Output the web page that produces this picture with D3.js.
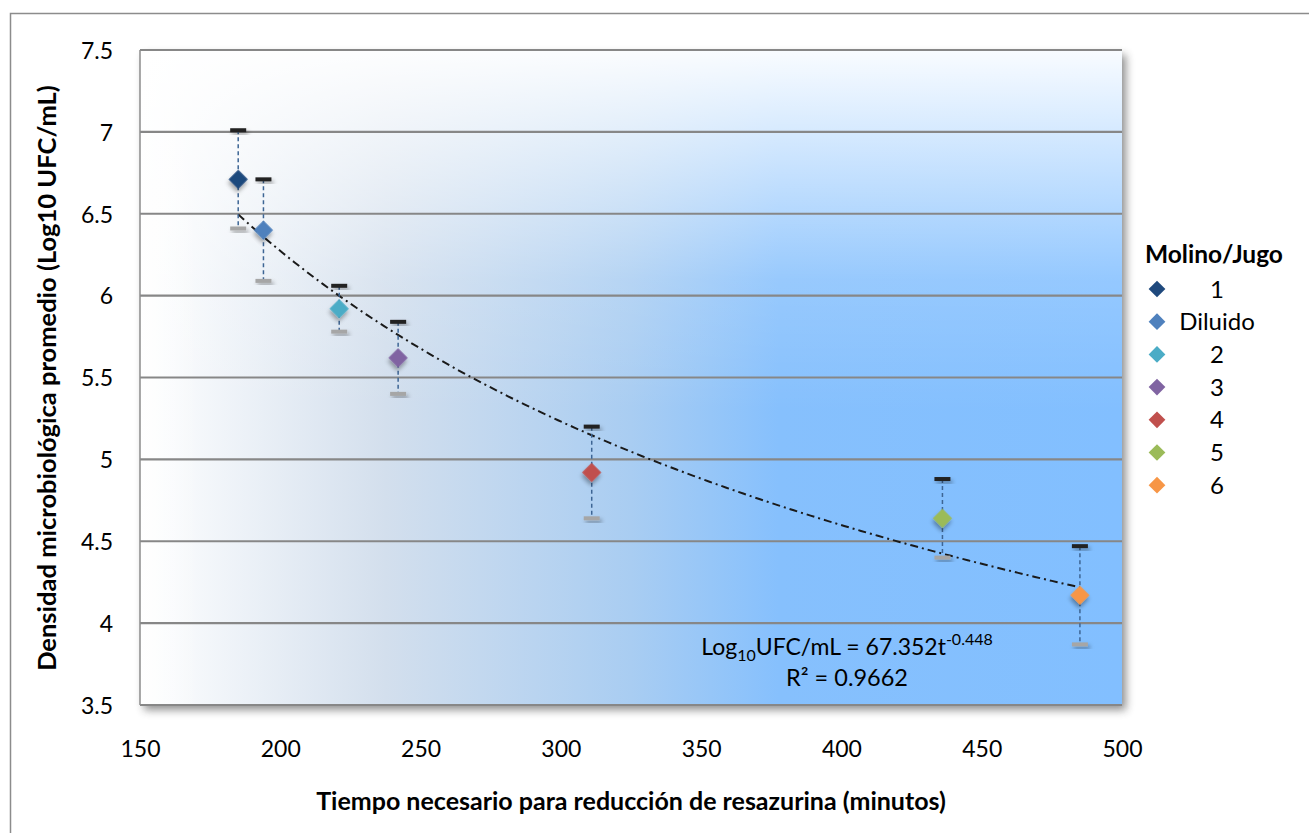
<!DOCTYPE html>
<html>
<head>
<meta charset="utf-8">
<script src="https://cdn.jsdelivr.net/npm/d3@7"></script>
<style>
  body { margin: 0; background: #fff; }
  text { font-family: Lato, "Open Sans", sans-serif; fill: #000; }
</style>
</head>
<body>
<svg id="chart" width="1309" height="833"></svg>
<script>
const labels = ["1", "Diluido", "2", "3", "4", "5", "6"];
const tiempo = [185, 194, 221, 242, 311, 436, 485];
const densidad = [6.71, 6.40, 5.92, 5.62, 4.92, 4.64, 4.17];
const errores = [0.30, 0.31, 0.14, 0.22, 0.28, 0.24, 0.30];
const colores = ["#1f497d", "#4f81bd", "#4bacc6", "#8064a2", "#c0504d", "#9bbb59", "#f79646"];
const xTicks = [150, 200, 250, 300, 350, 400, 450, 500];
const yTicks = [3.5, 4, 4.5, 5, 5.5, 6, 6.5, 7, 7.5];
// trendline from the equation shown on the chart
const trendA = 67.352, trendB = -0.448, trendRange = [185, 485];

const svg = d3.select("#chart");
const pLeft = 140, pRight = 1122, pTop = 50, pBottom = 705;

const x = d3.scaleLinear().domain([150, 500]).range([pLeft, pRight]);
const y = d3.scaleLinear().domain([3.5, 7.5]).range([pBottom, pTop]);

const defs = svg.append("defs");
const bg = defs.append("linearGradient").attr("id", "bg").attr("x1", 0).attr("x2", 1).attr("y1", 0).attr("y2", 0);
bg.append("stop").attr("offset", "0%").attr("stop-color", "#ffffff");
bg.append("stop").attr("offset", "25%").attr("stop-color", "#d3dfed");
bg.append("stop").attr("offset", "50%").attr("stop-color", "#a9cdf2");
bg.append("stop").attr("offset", "65%").attr("stop-color", "#86c0fd");
bg.append("stop").attr("offset", "100%").attr("stop-color", "#82bfff");
const fade = defs.append("linearGradient").attr("id", "fade").attr("x1", 0).attr("x2", 0).attr("y1", 0).attr("y2", 1);
fade.append("stop").attr("offset", "0%").attr("stop-color", "#fff").attr("stop-opacity", 0.95);
fade.append("stop").attr("offset", "35%").attr("stop-color", "#fff").attr("stop-opacity", 0.15);
fade.append("stop").attr("offset", "55%").attr("stop-color", "#fff").attr("stop-opacity", 0);
const fadeL = defs.append("linearGradient").attr("id", "fadeL").attr("x1", 0).attr("x2", 1).attr("y1", 0).attr("y2", 0);
fadeL.append("stop").attr("offset", "0%").attr("stop-color", "#fff").attr("stop-opacity", 1);
fadeL.append("stop").attr("offset", "100%").attr("stop-color", "#fff").attr("stop-opacity", 0);

const sh = defs.append("filter").attr("id", "shadow").attr("x", "-50%").attr("y", "-50%").attr("width", "200%").attr("height", "200%");
sh.append("feDropShadow").attr("dx", 2).attr("dy", 3).attr("stdDeviation", 2).attr("flood-opacity", 0.35);
const blur = defs.append("filter").attr("id", "blur").attr("x", "-10%").attr("y", "-10%").attr("width", "120%").attr("height", "120%");
blur.append("feGaussianBlur").attr("stdDeviation", 4);

// outer chart border
svg.append("rect").attr("x", 10.5).attr("y", 13.5).attr("width", 1320).attr("height", 840)
  .attr("fill", "#fff").attr("stroke", "#8c8c8c").attr("stroke-width", 1.5);

// plot area with shadow
svg.append("rect").attr("x", pLeft + 4).attr("y", pTop + 5).attr("width", pRight - pLeft).attr("height", pBottom - pTop)
  .attr("fill", "#555").attr("opacity", 0.65).attr("filter", "url(#blur)");
svg.append("rect").attr("x", pLeft).attr("y", pTop).attr("width", pRight - pLeft).attr("height", pBottom - pTop)
  .attr("fill", "url(#bg)");
svg.append("rect").attr("x", pLeft).attr("y", pTop).attr("width", pRight - pLeft).attr("height", pBottom - pTop)
  .attr("fill", "url(#fade)");
svg.append("rect").attr("x", pLeft).attr("y", pTop).attr("width", 60).attr("height", pBottom - pTop)
  .attr("fill", "url(#fadeL)").attr("opacity", 0.6);

// gridlines
svg.append("g").selectAll("line").data(yTicks).join("line")
  .attr("x1", pLeft).attr("x2", pRight)
  .attr("y1", d => y(d)).attr("y2", d => y(d))
  .attr("stroke", "#878787").attr("stroke-width", 2.2);
svg.append("line").attr("x1", pLeft).attr("x2", pLeft).attr("y1", pTop).attr("y2", pBottom)
  .attr("stroke", "#8c8c8c").attr("stroke-width", 1.5);

// axes
const yAxis = svg.append("g").attr("transform", `translate(${pLeft - 27},0)`)
  .call(d3.axisLeft(y).tickValues(yTicks).tickSize(0).tickPadding(0).tickFormat(d3.format("")));
yAxis.select(".domain").remove();
yAxis.selectAll("text").style("font-size", "23px").style("font-family", "Lato, sans-serif").attr("dy", "0.36em");

const xAxis = svg.append("g").attr("transform", `translate(0,${pBottom + 36})`)
  .call(d3.axisBottom(x).tickValues(xTicks).tickSize(0).tickPadding(0));
xAxis.select(".domain").remove();
xAxis.selectAll("text").style("font-size", "23px").style("font-family", "Lato, sans-serif").attr("dy", "0.71em");

svg.append("text").attr("transform", "translate(56,378) rotate(-90)")
  .attr("text-anchor", "middle").style("font-size", "25.5px").style("font-weight", "bold")
  .text("Densidad microbiológica promedio (Log10 UFC/mL)");
svg.append("text").attr("x", 631).attr("y", 810)
  .attr("text-anchor", "middle").style("font-size", "25px").style("font-weight", "bold")
  .text("Tiempo necesario para reducción de resazurina (minutos)");

// trendline
const trend = d3.range(trendRange[0], trendRange[1] + 0.5, 2).map(t => [t, trendA * Math.pow(t, trendB)]);
svg.append("path").datum(trend)
  .attr("d", d3.line().x(d => x(d[0])).y(d => y(d[1])))
  .attr("fill", "none").attr("stroke", "#1a1a1a").attr("stroke-width", 2)
  .attr("stroke-dasharray", "8,4,2,4");

// error bars and points
const pts = labels.map((l, i) => ({ l, t: tiempo[i], v: densidad[i], e: errores[i], c: colores[i] }));
const eb = svg.append("g").selectAll("g").data(pts).join("g");
eb.append("line")
  .attr("x1", d => x(d.t)).attr("x2", d => x(d.t))
  .attr("y1", d => y(d.v + d.e)).attr("y2", d => y(d.v - d.e))
  .attr("stroke", "#3d6594").attr("stroke-width", 1.5).attr("stroke-dasharray", "4,3");
eb.append("rect").attr("x", d => x(d.t) - 8).attr("y", d => y(d.v + d.e) - 2)
  .attr("width", 16).attr("height", 4).attr("fill", "#222").attr("filter", "url(#shadow)");
eb.append("rect").attr("x", d => x(d.t) - 8).attr("y", d => y(d.v - d.e) - 2)
  .attr("width", 16).attr("height", 4).attr("fill", "#a6a6a6").attr("filter", "url(#shadow)");

const diamond = d3.symbol().type(d3.symbolSquare).size(185);
svg.append("g").selectAll("path").data(pts).join("path")
  .attr("d", diamond)
  .attr("transform", d => `translate(${x(d.t)},${y(d.v)}) rotate(45)`)
  .attr("fill", d => d.c).attr("filter", "url(#shadow)");

// equation
const eq = svg.append("text").attr("x", 847).attr("y", 655).attr("text-anchor", "middle").style("font-size", "23px");
eq.append("tspan").text("Log");
eq.append("tspan").attr("dy", 6).style("font-size", "16px").text("10");
eq.append("tspan").attr("dy", -6).text("UFC/mL = 67.352t");
eq.append("tspan").attr("dy", -10).style("font-size", "16px").text("-0.448");
svg.append("text").attr("x", 847).attr("y", 686).attr("text-anchor", "middle").style("font-size", "23.5px")
  .text("R² = 0.9662");

// legend
const lg = svg.append("g");
lg.append("text").attr("x", 1145).attr("y", 263).style("font-size", "24.5px").style("font-weight", "bold").text("Molino/Jugo");
const items = lg.selectAll("g.item").data(pts).join("g").attr("class", "item")
  .attr("transform", (d, i) => `translate(0,${289 + i * 32.7})`);
items.append("path").attr("d", d3.symbol().type(d3.symbolSquare).size(140))
  .attr("transform", "translate(1157,0) rotate(45)").attr("fill", d => d.c);
items.append("text").attr("x", 1217).attr("y", 0).attr("dy", "0.36em").attr("text-anchor", "middle")
  .style("font-size", "24px").text(d => d.l);
</script>
</body>
</html>
